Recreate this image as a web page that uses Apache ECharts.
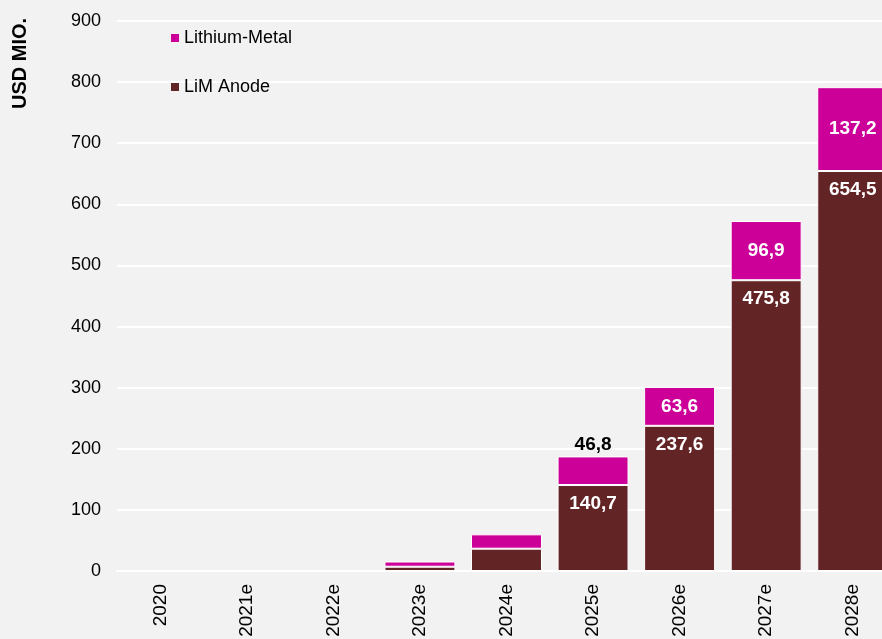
<!DOCTYPE html>
<html>
<head>
<meta charset="utf-8">
<script src="https://cdn.jsdelivr.net/npm/echarts@6/dist/echarts.min.js"></script>
<style>
  html, body { margin: 0; padding: 0; background: #f2f2f2; }
  #chart { width: 882px; height: 639px; }
</style>
</head>
<body>
<div id="chart"></div>
<script>
// Market size, USD million
const years = ['2020', '2021e', '2022e', '2023e', '2024e', '2025e', '2026e', '2027e', '2028e'];
const limAnode = [0, 0, 0, 7, 36.5, 140.7, 237.6, 475.8, 654.5];
const lithiumMetal = [0, 0, 0, 8.5, 23.5, 46.8, 63.6, 96.9, 137.2];
// Which segments carry a value label
const anodeLabelled = [false, false, false, false, false, true, true, true, true];
const metalLabelled = [false, false, false, false, false, true, true, true, true];
const metalLabelAbove = [false, false, false, false, false, true, false, false, false];

const FONT = '"Liberation Sans", Arial, sans-serif';
const fmt = v => String(v).replace('.', ',');

const anodeData = limAnode.map((v, i) => ({
  value: v,
  label: { show: anodeLabelled[i] }
}));
const metalData = lithiumMetal.map((v, i) => ({
  value: v,
  label: metalLabelAbove[i]
    ? { show: true, position: 'top', color: '#000', distance: 2 }
    : { show: metalLabelled[i] }
}));

const chart = echarts.init(document.getElementById('chart'), null, { renderer: 'canvas' });
chart.setOption({
  backgroundColor: '#f2f2f2',
  animation: false,
  textStyle: { fontFamily: FONT },
  grid: {
    left: 117, top: 21, bottom: 68, width: 779,
    containLabel: false,
    outerBoundsMode: 'none'
  },
  legend: {
    orient: 'vertical',
    left: 166,
    top: 24,
    itemWidth: 8,
    itemHeight: 8,
    itemGap: 31,
    icon: 'rect',
    data: ['Lithium-Metal', 'LiM Anode'],
    itemStyle: { borderWidth: 0 },
    textStyle: { fontFamily: FONT, fontSize: 18, color: '#000' }
  },
  xAxis: {
    type: 'category',
    data: years,
    axisLine: { lineStyle: { color: '#ffffff', width: 2 } },
    axisTick: { show: false },
    axisLabel: { rotate: 90, margin: 13, fontFamily: FONT, fontSize: 19, color: '#000' }
  },
  yAxis: {
    type: 'value',
    min: 0,
    max: 900,
    interval: 100,
    axisLine: { show: false },
    axisTick: { show: false },
    splitLine: { lineStyle: { color: '#ffffff', width: 2 } },
    axisLabel: { margin: 16, fontFamily: FONT, fontSize: 18, color: '#000' }
  },
  graphic: [{
    type: 'text',
    x: 10,
    y: 109,
    rotation: Math.PI / 2,
    style: {
      text: 'USD MIO.',
      font: 'bold 20px ' + FONT,
      fill: '#000',
      textAlign: 'left',
      textVerticalAlign: 'top'
    }
  }],
  series: [{
    name: 'LiM Anode',
    type: 'bar',
    stack: 'total',
    barWidth: '82%',
    data: anodeData,
    itemStyle: { color: '#632426', borderColor: '#ffffff', borderWidth: 1 },
    label: {
      position: 'insideTop',
      distance: 9,
      color: '#fff',
      fontFamily: FONT,
      fontWeight: 'bold',
      fontSize: 19,
      formatter: p => fmt(p.value)
    }
  }, {
    name: 'Lithium-Metal',
    type: 'bar',
    stack: 'total',
    barWidth: '82%',
    data: metalData,
    itemStyle: { color: '#cc0099', borderColor: '#ffffff', borderWidth: 1 },
    label: {
      position: 'inside',
      color: '#fff',
      fontFamily: FONT,
      fontWeight: 'bold',
      fontSize: 19,
      formatter: p => fmt(p.value)
    }
  }]
});
</script>
</body>
</html>
